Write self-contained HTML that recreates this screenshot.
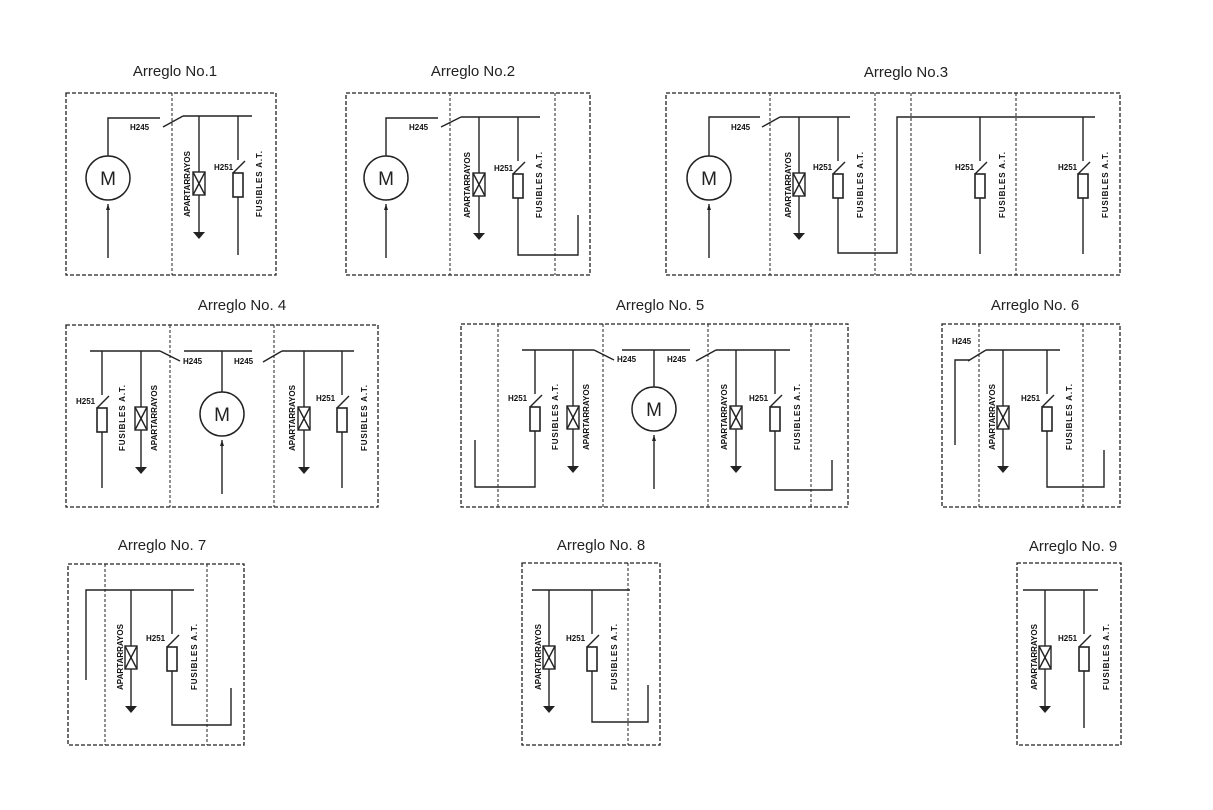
<!DOCTYPE html>
<html><head><meta charset="utf-8"><style>
body{margin:0;background:#fff}
svg{display:block}
.t{font-family:"Liberation Sans",sans-serif;font-size:15px;fill:#222}
.s{font-family:"Liberation Sans",sans-serif;font-size:8px;font-weight:bold;fill:#111}
.v{font-family:"Liberation Sans",sans-serif;font-size:8px;font-weight:bold;fill:#111}
.b{fill:none;stroke:#222;stroke-width:1.3;stroke-dasharray:4 2}
.d{fill:none;stroke:#222;stroke-width:1;stroke-dasharray:3 2}
.l{fill:none;stroke:#222;stroke-width:1.4}
</style></head><body>
<svg width="1213" height="810" viewBox="0 0 1213 810" xmlns="http://www.w3.org/2000/svg">
<defs>
<g id="fz"><line x1="0" y1="0" x2="0" y2="44" class="l"/><line x1="-5" y1="57" x2="7" y2="45" class="l"/><rect x="-5" y="57" width="10" height="24" fill="#fff" stroke="#222" stroke-width="1.6"/></g>
<g id="ar"><line x1="0" y1="0" x2="0" y2="116" class="l"/><rect x="-6" y="56" width="12" height="23" fill="#fff" stroke="#222" stroke-width="1.4"/><line x1="-6" y1="56" x2="6" y2="79" class="l"/><line x1="6" y1="56" x2="-6" y2="79" class="l"/><polygon points="-6,116 6,116 0,123" fill="#222"/></g>
<g id="mo"><circle cx="0" cy="0" r="22" fill="#fff" stroke="#222" stroke-width="1.5"/><text x="0" y="7" text-anchor="middle" font-family="Liberation Sans,sans-serif" font-size="19" fill="#222">M</text><line x1="0" y1="26" x2="0" y2="80" class="l"/><polygon points="-2,32 2,32 0,26" fill="#222"/></g>
</defs>

<!-- titles -->
<text class="t" x="175" y="76" text-anchor="middle">Arreglo No.1</text>
<text class="t" x="473" y="76" text-anchor="middle">Arreglo No.2</text>
<text class="t" x="906" y="77" text-anchor="middle">Arreglo No.3</text>
<text class="t" x="242" y="310" text-anchor="middle">Arreglo No. 4</text>
<text class="t" x="660" y="310" text-anchor="middle">Arreglo No. 5</text>
<text class="t" x="1035" y="310" text-anchor="middle">Arreglo No. 6</text>
<text class="t" x="162" y="550" text-anchor="middle">Arreglo No. 7</text>
<text class="t" x="601" y="550" text-anchor="middle">Arreglo No. 8</text>
<text class="t" x="1073" y="551" text-anchor="middle">Arreglo No. 9</text>

<!-- ARR 1 -->
<rect class="b" x="66" y="93" width="210" height="182"/>
<line class="d" x1="172" y1="93" x2="172" y2="275"/>
<use href="#mo" x="108" y="178"/>
<polyline class="l" points="108,156 108,118 160,118"/>
<line class="l" x1="163" y1="127" x2="183" y2="116"/>
<line class="l" x1="183" y1="116" x2="252" y2="116"/>
<text class="s" x="130" y="130">H245</text>
<use href="#ar" x="199" y="116"/>
<use href="#fz" x="238" y="116"/>
<line class="l" x1="238" y1="197" x2="238" y2="255"/>
<text class="s" x="214" y="170">H251</text>
<text class="v" transform="translate(190,184) rotate(-90)" text-anchor="middle" textLength="66">APARTARRAYOS</text>
<text class="v" transform="translate(262,184) rotate(-90)" text-anchor="middle" textLength="66">FUSIBLES A.T.</text>

<!-- ARR 2 -->
<rect class="b" x="346" y="93" width="244" height="182"/>
<line class="d" x1="450" y1="93" x2="450" y2="275"/>
<line class="d" x1="555" y1="93" x2="555" y2="275"/>
<use href="#mo" x="386" y="178"/>
<polyline class="l" points="386,156 386,118 438,118"/>
<line class="l" x1="441" y1="127" x2="461" y2="117"/>
<line class="l" x1="461" y1="117" x2="540" y2="117"/>
<text class="s" x="409" y="130">H245</text>
<use href="#ar" x="479" y="117"/>
<use href="#fz" x="518" y="117"/>
<polyline class="l" points="518,198 518,255 578,255 578,215"/>
<text class="s" x="494" y="171">H251</text>
<text class="v" transform="translate(470,185) rotate(-90)" text-anchor="middle" textLength="66">APARTARRAYOS</text>
<text class="v" transform="translate(542,185) rotate(-90)" text-anchor="middle" textLength="66">FUSIBLES A.T.</text>

<!-- ARR 3 -->
<rect class="b" x="666" y="93" width="454" height="182"/>
<line class="d" x1="770" y1="93" x2="770" y2="275"/>
<line class="d" x1="875" y1="93" x2="875" y2="275"/>
<line class="d" x1="911" y1="93" x2="911" y2="275"/>
<line class="d" x1="1016" y1="93" x2="1016" y2="275"/>
<use href="#mo" x="709" y="178"/>
<polyline class="l" points="709,156 709,117 760,117"/>
<line class="l" x1="762" y1="127" x2="780" y2="117"/>
<line class="l" x1="780" y1="117" x2="850" y2="117"/>
<text class="s" x="731" y="130">H245</text>
<use href="#ar" x="799" y="117"/>
<use href="#fz" x="838" y="117"/>
<polyline class="l" points="838,198 838,253 897,253 897,117 1095,117"/>
<text class="s" x="813" y="170">H251</text>
<text class="v" transform="translate(791,185) rotate(-90)" text-anchor="middle" textLength="66">APARTARRAYOS</text>
<text class="v" transform="translate(863,185) rotate(-90)" text-anchor="middle" textLength="66">FUSIBLES A.T.</text>
<use href="#fz" x="980" y="117"/>
<line class="l" x1="980" y1="198" x2="980" y2="254"/>
<text class="s" x="955" y="170">H251</text>
<text class="v" transform="translate(1005,185) rotate(-90)" text-anchor="middle" textLength="66">FUSIBLES A.T.</text>
<use href="#fz" x="1083" y="117"/>
<line class="l" x1="1083" y1="198" x2="1083" y2="254"/>
<text class="s" x="1058" y="170">H251</text>
<text class="v" transform="translate(1108,185) rotate(-90)" text-anchor="middle" textLength="66">FUSIBLES A.T.</text>

<!-- ARR 4 -->
<rect class="b" x="66" y="325" width="312" height="182"/>
<line class="d" x1="170" y1="325" x2="170" y2="507"/>
<line class="d" x1="274" y1="325" x2="274" y2="507"/>
<line class="l" x1="90" y1="351" x2="160" y2="351"/>
<line class="l" x1="160" y1="351" x2="180" y2="361"/>
<text class="s" x="183" y="364">H245</text>
<line class="l" x1="184" y1="351" x2="252" y2="351"/>
<line class="l" x1="222" y1="351" x2="222" y2="392"/>
<use href="#mo" x="222" y="414"/>
<text class="s" x="234" y="364">H245</text>
<line class="l" x1="263" y1="362" x2="282" y2="351"/>
<line class="l" x1="282" y1="351" x2="354" y2="351"/>
<use href="#fz" x="102" y="351"/>
<line class="l" x1="102" y1="432" x2="102" y2="488"/>
<text class="s" x="76" y="404">H251</text>
<text class="v" transform="translate(125,418) rotate(-90)" text-anchor="middle" textLength="66">FUSIBLES A.T.</text>
<use href="#ar" x="141" y="351"/>
<text class="v" transform="translate(157,418) rotate(-90)" text-anchor="middle" textLength="66">APARTARRAYOS</text>
<use href="#ar" x="304" y="351"/>
<text class="v" transform="translate(295,418) rotate(-90)" text-anchor="middle" textLength="66">APARTARRAYOS</text>
<use href="#fz" x="342" y="351"/>
<line class="l" x1="342" y1="432" x2="342" y2="488"/>
<text class="s" x="316" y="401">H251</text>
<text class="v" transform="translate(367,418) rotate(-90)" text-anchor="middle" textLength="66">FUSIBLES A.T.</text>

<!-- ARR 5 -->
<rect class="b" x="461" y="324" width="387" height="183"/>
<line class="d" x1="498" y1="324" x2="498" y2="507"/>
<line class="d" x1="603" y1="324" x2="603" y2="507"/>
<line class="d" x1="708" y1="324" x2="708" y2="507"/>
<line class="d" x1="811" y1="324" x2="811" y2="507"/>
<line class="l" x1="522" y1="350" x2="594" y2="350"/>
<line class="l" x1="594" y1="350" x2="614" y2="360"/>
<text class="s" x="617" y="362">H245</text>
<line class="l" x1="622" y1="350" x2="690" y2="350"/>
<line class="l" x1="654" y1="350" x2="654" y2="387"/>
<use href="#mo" x="654" y="409"/>
<text class="s" x="667" y="362">H245</text>
<line class="l" x1="696" y1="361" x2="716" y2="350"/>
<line class="l" x1="716" y1="350" x2="790" y2="350"/>
<use href="#fz" x="535" y="350"/>
<polyline class="l" points="535,431 535,487 475,487 475,440"/>
<text class="s" x="508" y="401">H251</text>
<text class="v" transform="translate(558,417) rotate(-90)" text-anchor="middle" textLength="66">FUSIBLES A.T.</text>
<use href="#ar" x="573" y="350"/>
<text class="v" transform="translate(589,417) rotate(-90)" text-anchor="middle" textLength="66">APARTARRAYOS</text>
<use href="#ar" x="736" y="350"/>
<text class="v" transform="translate(727,417) rotate(-90)" text-anchor="middle" textLength="66">APARTARRAYOS</text>
<use href="#fz" x="775" y="350"/>
<polyline class="l" points="775,431 775,490 832,490 832,460"/>
<text class="s" x="749" y="401">H251</text>
<text class="v" transform="translate(800,417) rotate(-90)" text-anchor="middle" textLength="66">FUSIBLES A.T.</text>

<!-- ARR 6 -->
<rect class="b" x="942" y="324" width="178" height="183"/>
<line class="d" x1="979" y1="324" x2="979" y2="507"/>
<line class="d" x1="1083" y1="324" x2="1083" y2="507"/>
<text class="s" x="952" y="344">H245</text>
<polyline class="l" points="955,445 955,360 970,360"/>
<line class="l" x1="968" y1="361" x2="986" y2="350"/>
<line class="l" x1="986" y1="350" x2="1060" y2="350"/>
<use href="#ar" x="1003" y="350"/>
<text class="v" transform="translate(995,417) rotate(-90)" text-anchor="middle" textLength="66">APARTARRAYOS</text>
<use href="#fz" x="1047" y="350"/>
<polyline class="l" points="1047,431 1047,487 1104,487 1104,450"/>
<text class="s" x="1021" y="401">H251</text>
<text class="v" transform="translate(1072,417) rotate(-90)" text-anchor="middle" textLength="66">FUSIBLES A.T.</text>

<!-- ARR 7 -->
<rect class="b" x="68" y="564" width="176" height="181"/>
<line class="d" x1="105" y1="564" x2="105" y2="745"/>
<line class="d" x1="207" y1="564" x2="207" y2="745"/>
<polyline class="l" points="86,680 86,590 194,590"/>
<use href="#ar" x="131" y="590"/>
<text class="v" transform="translate(123,657) rotate(-90)" text-anchor="middle" textLength="66">APARTARRAYOS</text>
<use href="#fz" x="172" y="590"/>
<polyline class="l" points="172,671 172,725 231,725 231,688"/>
<text class="s" x="146" y="641">H251</text>
<text class="v" transform="translate(197,657) rotate(-90)" text-anchor="middle" textLength="66">FUSIBLES A.T.</text>

<!-- ARR 8 -->
<rect class="b" x="522" y="563" width="138" height="182"/>
<line class="d" x1="628" y1="563" x2="628" y2="745"/>
<line class="l" x1="532" y1="590" x2="630" y2="590"/>
<use href="#ar" x="549" y="590"/>
<text class="v" transform="translate(541,657) rotate(-90)" text-anchor="middle" textLength="66">APARTARRAYOS</text>
<use href="#fz" x="592" y="590"/>
<polyline class="l" points="592,671 592,722 648,722 648,685"/>
<text class="s" x="566" y="641">H251</text>
<text class="v" transform="translate(617,657) rotate(-90)" text-anchor="middle" textLength="66">FUSIBLES A.T.</text>

<!-- ARR 9 -->
<rect class="b" x="1017" y="563" width="104" height="182"/>
<line class="l" x1="1023" y1="590" x2="1098" y2="590"/>
<use href="#ar" x="1045" y="590"/>
<text class="v" transform="translate(1037,657) rotate(-90)" text-anchor="middle" textLength="66">APARTARRAYOS</text>
<use href="#fz" x="1084" y="590"/>
<line class="l" x1="1084" y1="671" x2="1084" y2="728"/>
<text class="s" x="1058" y="641">H251</text>
<text class="v" transform="translate(1109,657) rotate(-90)" text-anchor="middle" textLength="66">FUSIBLES A.T.</text>
</svg>
</body></html>
